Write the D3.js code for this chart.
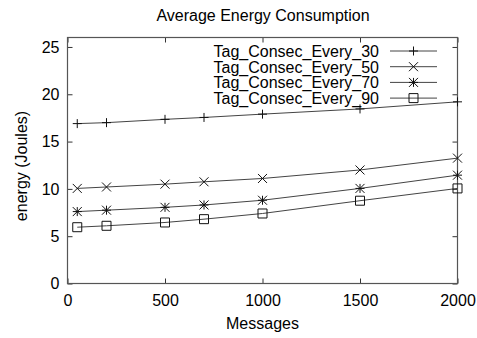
<!DOCTYPE html>
<html><head><meta charset="utf-8">
<script src="https://cdn.jsdelivr.net/npm/d3@7"></script>
<style>body{margin:0;background:#fff}svg{display:block}text{font-family:"Liberation Sans",Arial,sans-serif;fill:#000}</style>
</head><body><svg id="c" width="477" height="338"></svg>
<script>
const messages = [50, 200, 500, 700, 1000, 1500, 2000];
const seriesNames = ["Tag_Consec_Every_30", "Tag_Consec_Every_50", "Tag_Consec_Every_70", "Tag_Consec_Every_90"];
const every30 = [16.9, 17.0, 17.35, 17.55, 17.9, 18.45, 19.2];
const every50 = [10.05, 10.2, 10.5, 10.75, 11.1, 12.0, 13.25];
const every70 = [7.6, 7.75, 8.05, 8.3, 8.8, 10.05, 11.45];
const every90 = [5.95, 6.1, 6.45, 6.8, 7.4, 8.75, 10.05];
const markerTypes = ["plus", "cross", "star", "square"];
const xTicks = [0, 500, 1000, 1500, 2000];
const yTicks = [0, 5, 10, 15, 20, 25];
const titleText = "Average Energy Consumption";
const xLabel = "Messages";
const yLabel = "energy (Joules)";

const allSeries = [every30, every50, every70, every90];
const svg = d3.select("#c");
const L = 67.5, R = 457.5, T = 37.5, B = 283.5;
const x = d3.scaleLinear().domain([0, 2000]).range([L, R]);
const y = d3.scaleLinear().domain([0, 26]).range([B, T]);

svg.append("text").attr("x", 263).attr("y", 21).attr("text-anchor", "middle").style("font-size", "16px").text(titleText);

// axes
const tickLen = 5;
const gB = svg.append("g").attr("transform", `translate(0,${B})`).call(d3.axisBottom(x).tickValues(xTicks).tickSize(-tickLen).tickPadding(12).tickFormat(d3.format("d")));
const gT = svg.append("g").attr("transform", `translate(0,${T})`).call(d3.axisTop(x).tickValues(xTicks).tickSize(-tickLen).tickFormat(""));
const gL = svg.append("g").attr("transform", `translate(${L},0)`).call(d3.axisLeft(y).tickValues(yTicks).tickSize(-tickLen).tickPadding(12));
const gR = svg.append("g").attr("transform", `translate(${R},0)`).call(d3.axisRight(y).tickValues(yTicks).tickSize(-tickLen).tickFormat(""));
[gB, gT, gL, gR].forEach(g => {
  g.select(".domain").remove();
  g.selectAll(".tick line").attr("stroke", "#333");
  g.selectAll(".tick text").style("font-size", "16px").attr("fill", "#000").style("font-family", "Liberation Sans, Arial, sans-serif");
});
gL.selectAll(".tick text").attr("x", -8);
gB.selectAll(".tick text").attr("y", 11);
svg.append("rect").attr("x", L).attr("y", T).attr("width", R - L).attr("height", B - T).attr("fill", "none").attr("stroke", "#555").attr("stroke-width", 1.2);

svg.append("text").attr("x", (L + R) / 2).attr("y", 329).attr("text-anchor", "middle").style("font-size", "16px").text(xLabel);
svg.append("text").attr("transform", "translate(27,166) rotate(-90)").attr("text-anchor", "middle").style("font-size", "16px").text(yLabel);

function marker(g, type, cx, cy) {
  const s = 4.5;
  const p = g.append("path").attr("fill", "none").attr("stroke", "#111").attr("stroke-width", 1);
  if (type === "plus") p.attr("d", `M${cx - s},${cy}H${cx + s}M${cx},${cy - s}V${cy + s}`);
  else if (type === "cross") p.attr("d", `M${cx - s},${cy - s}L${cx + s},${cy + s}M${cx - s},${cy + s}L${cx + s},${cy - s}`);
  else if (type === "star") p.attr("d", `M${cx - s},${cy}H${cx + s}M${cx},${cy - s}V${cy + s}M${cx - s},${cy - s}L${cx + s},${cy + s}M${cx - s},${cy + s}L${cx + s},${cy - s}`);
  else p.attr("d", `M${cx - s},${cy - s}H${cx + s}V${cy + s}H${cx - s}Z`);
}

const line = d3.line().x(d => x(d[0])).y(d => y(d[1]));
allSeries.forEach((vals, i) => {
  const pts = messages.map((m, j) => [m, vals[j]]);
  const g = svg.append("g");
  g.append("path").attr("d", line(pts)).attr("fill", "none").attr("stroke", "#444").attr("stroke-width", 1);
  pts.forEach(p => marker(g, markerTypes[i], x(p[0]), y(p[1])));
});

// legend
const legY = [51, 66.7, 82.4, 98.1];
seriesNames.forEach((n, i) => {
  const g = svg.append("g");
  g.append("text").attr("x", 379).attr("y", legY[i] + 5.8).attr("text-anchor", "end").style("font-size", "16px").text(n);
  g.append("line").attr("x1", 390).attr("x2", 437).attr("y1", legY[i]).attr("y2", legY[i]).attr("stroke", "#444");
  marker(g, markerTypes[i], 413.5, legY[i]);
});
</script></body></html>
